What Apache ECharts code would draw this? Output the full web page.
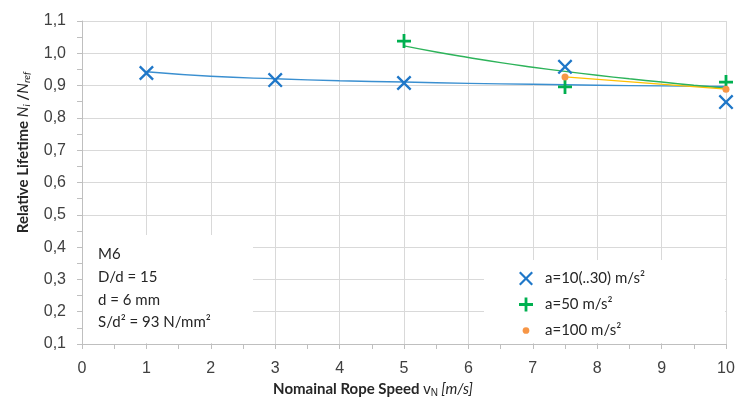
<!DOCTYPE html>
<html>
<head>
<meta charset="utf-8">
<script src="https://cdn.jsdelivr.net/npm/echarts@6/dist/echarts.min.js"></script>
<style>
  html, body { margin: 0; padding: 0; background: #fff; }
  #chart { width: 736px; height: 399px; }
</style>
</head>
<body>
<div id="chart"></div>
<script>
// measured points
const speedA10 = [1, 3, 5, 7.5, 10];
const lifeA10 = [0.939, 0.917, 0.908, 0.958, 0.849];
const speedA50 = [5, 7.5, 10];
const lifeA50 = [1.038, 0.896, 0.911];
const speedA100 = [7.5, 10];
const lifeA100 = [0.927, 0.889];

// trend lines
const trendA10X = [1, 2, 3, 4, 5, 6, 7, 8, 9, 10];
const trendA10Y = [0.943, 0.929, 0.921, 0.915, 0.911, 0.907, 0.904, 0.901, 0.899, 0.897];
const trendA50X = [5, 5.5, 6, 6.5, 7, 7.5, 8, 8.5, 9, 9.5, 10];
const trendA50Y = [1.023, 1.004, 0.987, 0.971, 0.957, 0.944, 0.932, 0.921, 0.911, 0.901, 0.892];
const trendA100X = [7.5, 10];
const trendA100Y = [0.927, 0.889];

const legendNames = ["a=10(..30) m/s²", "a=50 m/s²", "a=100 m/s²"];
const infoLines = ["M6", "D/d = 15", "d = 6 mm", "S/d² = 93 N/mm²"];

const pairs = (xs, ys) => xs.map((x, i) => [x, ys[i]]);

const crossPath = "path://M0,1.1L1.1,0L5,3.9L8.9,0L10,1.1L6.1,5L10,8.9L8.9,10L5,6.1L1.1,10L0,8.9L3.9,5Z";
const plusPath = "path://M4,0H6V4H10V6H6V10H4V6H0V4H4Z";
// small dot inside a 10x10 frame so the legend icon stays small
const dotPath = "path://M0,0M10,10M2.6,5A2.4,2.4 0 1,0 7.4,5A2.4,2.4 0 1,0 2.6,5Z";

const chart = echarts.init(document.getElementById("chart"));

const labelFont = "'Liberation Sans', Arial, sans-serif";
const textFont = "Lato, 'Open Sans', sans-serif";

const option = {
  animation: false,
  backgroundColor: "#fff",
  grid: { left: 82, right: 10, top: 21, bottom: 55, outerBoundsMode: "none" },
  xAxis: {
    type: "value",
    min: 0,
    max: 10,
    interval: 1,
    name: "{b|Nomainal Rope Speed }{n|v}{s|N}{i| [m/s]}",
    nameLocation: "middle",
    nameGap: 33,
    nameTextStyle: {
      padding: [0, 62, 0, 0],
      rich: {
        b: { fontFamily: textFont, fontWeight: "bold", fontSize: 15, color: "#262626" },
        n: { fontFamily: labelFont, fontSize: 15, color: "#262626" },
        s: { fontFamily: labelFont, fontSize: 10, color: "#262626", padding: [8, 0, 0, 0] },
        i: { fontFamily: textFont, fontStyle: "italic", fontSize: 15, color: "#262626" }
      }
    },
    axisLine: { lineStyle: { color: "#bfbfbf", width: 1 } },
    axisTick: { show: true, length: 5, lineStyle: { color: "#bfbfbf" } },
    minorTick: { show: true, splitNumber: 2, length: 5, lineStyle: { color: "#bfbfbf" } },
    splitLine: { show: true, lineStyle: { color: "#d9d9d9", width: 1 } },
    axisLabel: { fontFamily: labelFont, fontSize: 16, color: "#404040", margin: 17 }
  },
  yAxis: {
    type: "value",
    min: 0.1,
    max: 1.1,
    interval: 0.1,
    name: "{b|Relative Lifetime }{i|N}{si|i}{b| /}{i|N}{si|ref}",
    nameLocation: "middle",
    nameGap: 50,
    nameRotate: 90,
    nameTextStyle: {
      padding: [0, 0, 0, 60],
      rich: {
        b: { fontFamily: textFont, fontWeight: "bold", fontSize: 15, color: "#262626" },
        i: { fontFamily: textFont, fontStyle: "italic", fontSize: 15, color: "#262626" },
        si: { fontFamily: textFont, fontStyle: "italic", fontSize: 10, color: "#262626", padding: [8, 0, 0, 0] }
      }
    },
    axisLine: { show: true, lineStyle: { color: "#bfbfbf", width: 1 } },
    axisTick: { show: true, length: 5, lineStyle: { color: "#bfbfbf" } },
    minorTick: { show: true, splitNumber: 2, length: 5, lineStyle: { color: "#bfbfbf" } },
    splitLine: { show: true, lineStyle: { color: "#d9d9d9", width: 1 } },
    axisLabel: {
      fontFamily: labelFont, fontSize: 16, color: "#404040", margin: 16,
      formatter: v => v.toFixed(1).replace(".", ",")
    }
  },
  legend: {
    orient: "vertical",
    left: 514,
    top: 266,
    itemWidth: 14,
    itemHeight: 14,
    itemGap: 11,
    data: [
      { name: legendNames[0] },
      { name: legendNames[1] },
      { name: legendNames[2], icon: dotPath }
    ],
    textStyle: { fontFamily: textFont, fontSize: 15, color: "#262626", padding: [0, 0, 0, 7] }
  },
  graphic: [
    {
      type: "rect", z: 1,
      shape: { x: 83, y: 235, width: 170, height: 108 },
      style: { fill: "#fff" }
    },
    {
      type: "rect", z: 1,
      shape: { x: 484, y: 260, width: 241, height: 83 },
      style: { fill: "#fff" }
    },
    {
      type: "text", z: 3, left: 98, top: 243,
      style: {
        text: infoLines.join("\n"),
        font: "15px " + textFont,
        lineHeight: 22.7,
        fill: "#262626"
      }
    }
  ],
  series: [
    {
      type: "line", name: "trend10", data: pairs(trendA10X, trendA10Y),
      smooth: true, showSymbol: false, silent: true, z: 2,
      lineStyle: { color: "#3A8FD0", width: 1.4 }
    },
    {
      type: "line", name: "trend50", data: pairs(trendA50X, trendA50Y),
      smooth: true, showSymbol: false, silent: true, z: 2,
      lineStyle: { color: "#2DB35A", width: 1.4 }
    },
    {
      type: "line", name: "trend100", data: pairs(trendA100X, trendA100Y),
      showSymbol: false, silent: true, z: 2,
      lineStyle: { color: "#FFC000", width: 1.4 }
    },
    {
      type: "scatter", name: legendNames[0], data: pairs(speedA10, lifeA10),
      symbol: crossPath, symbolSize: 15, z: 3,
      itemStyle: { color: "#1F77C8", opacity: 1 }
    },
    {
      type: "scatter", name: legendNames[1], data: pairs(speedA50, lifeA50),
      symbol: plusPath, symbolSize: 14, z: 3,
      itemStyle: { color: "#00B050", opacity: 1 }
    },
    {
      type: "scatter", name: legendNames[2], data: pairs(speedA100, lifeA100),
      symbol: "circle", symbolSize: 7, z: 3,
      itemStyle: { color: "#F79646", opacity: 1 }
    }
  ]
};

chart.setOption(option);
window.addEventListener("resize", () => chart.resize());
</script>
</body>
</html>
